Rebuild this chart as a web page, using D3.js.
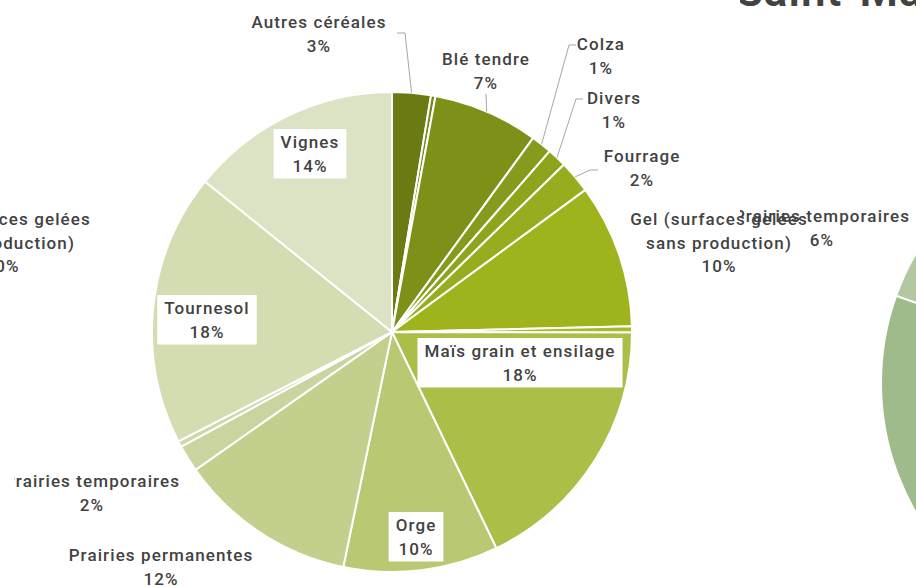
<!DOCTYPE html>
<meta charset="utf-8">
<script src="https://d3js.org/d3.v7.min.js"></script>

<style>
  body {
    margin: 0;
    background: #fff;
  }

  svg text {
    font-family: Roboto, "Noto Sans", sans-serif;
    font-size: 17px;
    font-weight: 500;
    letter-spacing: 1.1px;
    fill: #424242;
  }

  .slice {
    stroke: #fff;
    stroke-width: 2px;
  }

  .leader {
    fill: none;
    stroke: #a6a6a6;
    stroke-width: 1px;
  }
</style>

<body>
  <div id="chart"></div>

  <script>
    // Data (alphabetical order, clockwise from the top)
    const categories = ["Autres céréales", "Avoine", "Blé tendre", "Colza", "Divers", "Fourrage",
      "Gel (surfaces gelées sans production)", "Légumes", "Maïs grain et ensilage", "Orge",
      "Prairies permanentes", "Prairies temporaires", "Protéagineux", "Tournesol", "Vignes"];
    const values = [2.6, 0.3, 7.1, 1.4, 1.3, 2.2, 9.7, 0.4, 17.8, 10.4, 12.0, 1.8, 0.4, 18.3, 14.2];
    const colors = ["#6b7a13", "#748818", "#7e9018", "#869b1b", "#8ea41d", "#97ad1f", "#9eb31c",
      "#a6ba2c", "#abbf48", "#b9c872", "#c2cf8d", "#c9d49e", "#ced8a8", "#d4ddb2", "#dce3c5"];

    // neighbouring chart on the right (only a part of it is on screen)
    const rightCategories = ["Prairies permanentes", "Prairies temporaires", "Autres"];
    const rightValues = [45, 6, 49];
    const rightColors = ["#9fbb8c", "#b3c8a0", "#c9d8b8"];

    let width = 916,
        height = 586,
        cx = 392, cy = 332, radius = 240;

    const svg = d3.select("#chart")
      .append("svg")
      .attr("width", width)
      .attr("height", height);

    const data = categories.map((c, i) => ({name: c, value: values[i], color: colors[i]}));
    const total = d3.sum(values);
    const pct = (v) => Math.round(v / total * 100) + "%";

    const pie = d3.pie().sort(null).value(d => d.value);
    const arc = d3.arc().innerRadius(0).outerRadius(radius);
    const edge = d3.arc().innerRadius(radius).outerRadius(radius);

    // label layout: centre of the first line, box or not, leader start points
    const layout = {
      "Autres céréales": {x: 319, y: 22, lead: [[397, 33], [405, 33]]},
      "Blé tendre": {x: 486, y: 59, lead: [[486, 94]]},
      "Colza": {x: 601, y: 44, lead: [[576, 45], [569, 45]]},
      "Divers": {x: 614, y: 98, lead: [[583, 99], [576, 99]]},
      "Fourrage": {x: 642, y: 156, lead: [[598, 170], [590, 170]]},
      "Gel (surfaces gelées sans production)": {x: 719, y: 219, lines: ["Gel (surfaces gelées", "sans production)"]},
      "Maïs grain et ensilage": {x: 520, y: 351, box: true},
      "Orge": {x: 416, y: 525, box: true},
      "Prairies permanentes": {x: 161, y: 555},
      "Prairies temporaires": {x: 92, y: 481},
      "Tournesol": {x: 207, y: 308, box: true},
      "Vignes": {x: 310, y: 142, box: true}
    };
    const lineH = 23.5;

    // clip of this chart's panel
    svg.append("clipPath").attr("id", "clipMain")
      .append("rect").attr("x", 14).attr("y", 0).attr("width", 900).attr("height", height);
    svg.append("clipPath").attr("id", "clipRight")
      .append("rect").attr("x", 740).attr("y", 0).attr("width", 200).attr("height", height);

    const main = svg.append("g").attr("clip-path", "url(#clipMain)");
    const g = main.append("g").attr("transform", `translate(${cx},${cy})`);

    const arcs = pie(data);

    g.selectAll("path.slice")
      .data(arcs)
      .enter()
      .append("path")
      .attr("class", "slice")
      .attr("d", arc)
      .attr("fill", d => d.data.color);

    // leader lines
    arcs.forEach(a => {
      const L = layout[a.data.name];
      if (!L || !L.lead) return;
      const end = edge.centroid(a);
      const pts = L.lead.map(p => [p[0] - cx, p[1] - cy]).concat([end]);
      g.append("path")
        .attr("class", "leader")
        .attr("d", d3.line()(pts));
    });

    // labels
    const drawLabel = (parent, x, y, lines, box) => {
      const t = parent.append("text")
        .attr("text-anchor", "middle");
      lines.forEach((l, i) => {
        t.append("tspan")
          .attr("x", x)
          .attr("y", y + i * lineH + 6)
          .text(l);
      });
      if (box) {
        const b = t.node().getBBox();
        parent.insert("rect", () => t.node())
          .attr("x", b.x - 7)
          .attr("y", b.y - 3)
          .attr("width", b.width + 14)
          .attr("height", b.height + 6)
          .attr("fill", "#fff");
      }
      return t;
    };

    arcs.forEach(a => {
      const L = layout[a.data.name];
      if (!L) return;
      const lines = (L.lines || [a.data.name]).concat([pct(a.data.value)]);
      drawLabel(main, L.x, L.y, lines, L.box);
    });

    // part of the chart on the left (label that spills over)
    drawLabel(svg, 2, 219, ["Gel (surfaces gelées", "sans production)", "10%"], false);

    // chart on the right
    const right = svg.append("g").attr("clip-path", "url(#clipRight)");
    const rightPie = d3.pie().sort(null).value(d => d)
      .startAngle(127.7 * Math.PI / 180)
      .endAngle(487.7 * Math.PI / 180);
    const rightArc = d3.arc().innerRadius(0).outerRadius(259);
    right.append("g")
      .attr("transform", "translate(1140,383)")
      .selectAll("path")
      .data(rightPie(rightValues))
      .enter()
      .append("path")
      .attr("class", "slice")
      .attr("d", rightArc)
      .attr("fill", (d, i) => rightColors[i]);

    drawLabel(right, 822, 216, [rightCategories[1], pct(rightValues[1] * total / d3.sum(rightValues))], false);

    right.append("text")
      .attr("x", 736)
      .attr("y", 6)
      .style("font-size", "44px")
      .style("font-weight", "600")
      .style("letter-spacing", "1px")
      .text("Saint-Martin");
  </script>
</body>
